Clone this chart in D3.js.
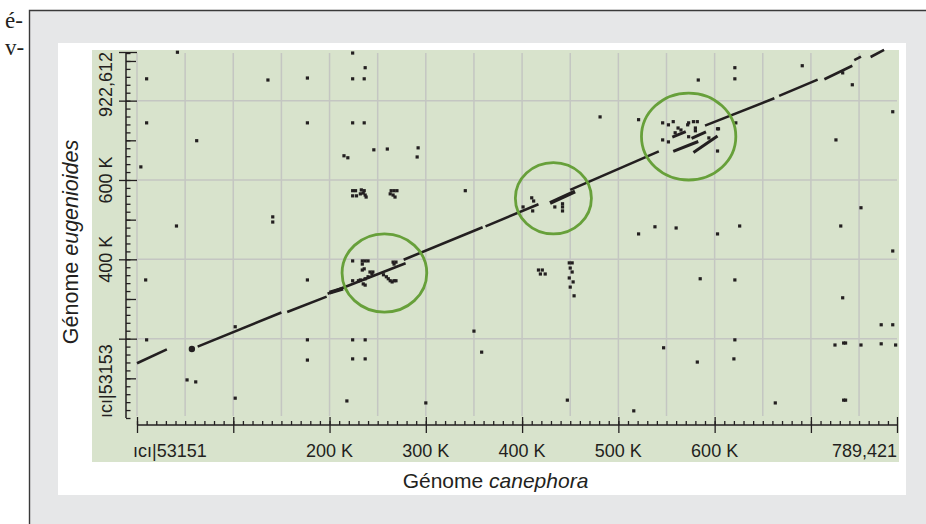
<!DOCTYPE html>
<meta charset="utf-8">
<html>
<head>
    <script src="https://d3js.org/d3.v7.min.js"></script>
    <style>
        body { margin: 0; background: #fff; }
        svg { display: block; font-family: "Liberation Sans", Arial, sans-serif; }
        .grid line { stroke: #c4c6c2; stroke-width: 1.5; }
        .axis path { display: none; }
        .axis line { stroke: #231f20; stroke-width: 1.3; }
        .axis text { font-size: 18px; fill: #231f20; }
    </style>
</head>
<body>
<svg width="926" height="524"></svg>
<script>
    // positions in kb
    const xMax = 789.421;   // Génome canephora
    const yMax = 922.612;   // Génome eugenioides

    const xLabelValues = [0, 200, 300, 400, 500, 600, xMax];
    const xLabelTexts = ["ıcı|53151", "200 K", "300 K", "400 K", "500 K", "600 K", "789,421"];
    const yLabelValues = [0, 400, 600, yMax];
    const yLabelTexts = ["ıcı|53153", "400 K", "600 K", "922,612"];

    // collinear runs [x0, y0, x1, y1]
    const runs = [
        [0, 138, 31, 173], [63, 180, 150, 266], [156, 267, 197, 306], [198, 313, 279, 390],
        [277, 399, 359, 481], [362, 483, 417, 539], [450, 575, 542, 672], [590, 737, 662, 806],
        [667, 812, 707, 853], [714, 854, 743, 888], [745, 902, 752, 911], [762, 910, 776, 928]
    ];
    // dense runs
    const denseRuns = [[429, 542, 455, 571], [200, 316, 214, 326]];
    // short streaks in third region
    const streaks = [[556, 708, 570, 722], [557, 672, 583, 697], [576, 705, 591, 721], [578, 669, 603, 711]];

    // single hits [x, y]
    const hits = [
        [42, 922], [10, 855], [10, 744], [62, 699], [4, 633], [41, 484], [9, 348], [10, 197], [52, 96], [61, 91],
        [102, 50], [102, 230], [136, 852], [141, 507], [141, 494], [177, 857], [177, 744], [224, 920], [237, 883],
        [224, 855], [236, 855], [224, 744], [236, 744], [215, 661], [219, 656], [246, 676], [260, 678], [292, 681],
        [291, 658],
        [224, 573], [227, 573], [224, 560], [228, 560], [233, 575], [235, 567], [237, 562], [238, 557], [232, 565],
        [236, 573], [264, 573], [267, 573], [270, 573], [263, 565], [266, 562], [268, 557],
        [341, 573], [177, 348], [177, 197], [177, 146], [224, 197], [237, 197], [224, 149], [237, 149],
        [218, 43], [300, 38], [350, 219], [358, 166], [481, 759], [521, 752], [521, 464], [538, 482], [560, 479],
        [547, 177], [582, 141], [585, 351], [621, 348], [621, 197], [620, 149], [603, 464], [626, 484],
        [621, 883], [621, 855], [691, 888], [733, 870], [743, 840], [785, 772], [726, 701], [752, 530], [731, 484],
        [785, 421], [733, 303], [773, 235], [785, 235], [725, 184], [734, 189], [736, 189], [752, 184], [773, 187],
        [788, 184], [663, 38], [734, 45], [736, 45], [516, 18], [447, 45],
        [417, 373], [421, 373], [419, 363], [424, 363], [449, 391], [452, 391], [450, 378], [452, 368], [449, 353],
        [453, 343], [450, 330], [454, 308],
        [410, 555], [412, 547], [401, 532], [411, 522], [434, 532], [442, 540], [442, 532], [442, 522],
        [224, 396], [234, 396], [237, 396], [240, 396], [234, 388], [266, 393], [269, 393], [267, 388], [234, 373],
        [236, 376], [242, 368], [245, 368], [244, 363], [224, 346], [230, 346], [232, 348], [237, 351], [240, 356],
        [235, 338], [237, 335], [256, 361], [259, 356], [261, 351], [263, 346], [265, 343], [267, 346], [269, 346],
        [546, 744], [552, 739], [557, 747], [562, 731], [565, 726], [572, 739], [573, 744], [578, 747], [582, 747],
        [580, 731], [580, 724], [559, 719], [546, 701], [552, 696], [573, 709], [594, 706], [603, 729], [604, 729],
        [603, 673], [622, 744], [583, 852]
    ];
    const blobs = [[57, 174]];

    // circled regions [x0, x1, y0, y1]
    const highlights = [[213, 301, 267, 464], [393, 472, 464, 644], [524, 622, 600, 819]];

    const svg = d3.select("svg");
    const ink = "#231f20";

    // page furniture
    svg.append("rect").attr("x", 29).attr("y", 10).attr("width", 897).attr("height", 514).attr("fill", "#e6e7e8");
    svg.append("path").attr("d", "M29.5,524V10.5H926").attr("fill", "none").attr("stroke", "#3a3a3a").attr("stroke-width", 1.4);
    svg.append("rect").attr("x", 58).attr("y", 43).attr("width", 848).attr("height", 452).attr("fill", "#fff");
    svg.append("rect").attr("x", 92).attr("y", 50).attr("width", 807).attr("height", 412).attr("fill", "#d8e3cc");
    svg.append("text").attr("x", 5).attr("y", 28).attr("font-family", "Liberation Serif, serif").attr("font-size", 23).attr("fill", ink).text("é-");
    svg.append("text").attr("x", 5).attr("y", 55).attr("font-family", "Liberation Serif, serif").attr("font-size", 23).attr("fill", ink).text("v-");

    const x = d3.scaleLinear().domain([0, xMax]).range([137, 897]);
    const y = d3.scaleLinear().domain([0, yMax]).range([418, 52]);

    // grid
    svg.append("g").attr("class", "grid").selectAll("line")
        .data(d3.range(0, 751, 50)).join("line")
        .attr("x1", d => x(d)).attr("x2", d => x(d)).attr("y1", 53).attr("y2", 416);
    svg.append("g").attr("class", "grid").selectAll("line")
        .data([200, 400, 600, 800]).join("line")
        .attr("y1", d => y(d)).attr("y2", d => y(d)).attr("x1", 137).attr("x2", 897);

    // x axis
    const xAxisY = 425;
    svg.append("g").attr("class", "axis").attr("transform", `translate(0,${xAxisY})`)
        .call(d3.axisTop(x).tickValues(d3.range(0, 790, 10)).tickSize(4).tickFormat(""));
    svg.append("g").attr("class", "axis").attr("transform", `translate(0,${xAxisY})`)
        .call(d3.axisTop(x).tickValues([0, 100, 200, 300, 400, 500, 600, 700, xMax]).tickSize(8).tickFormat(""));
    svg.append("g").attr("class", "axis").attr("transform", `translate(0,${xAxisY})`)
        .call(d3.axisBottom(x).tickValues([0, 100, 200, 300, 400, 500, 600, 700, xMax]).tickSize(8).tickFormat(""));
    svg.append("line").attr("x1", x(0)).attr("x2", x(xMax)).attr("y1", xAxisY).attr("y2", xAxisY)
        .attr("stroke", ink).attr("stroke-width", 1.5);
    svg.append("g").attr("class", "axis").selectAll("text")
        .data(xLabelValues).join("text")
        .attr("x", (d, i) => i === 0 ? x(d) - 4 : x(d))
        .attr("y", 456.5)
        .attr("text-anchor", (d, i) => i === 0 ? "start" : i === xLabelValues.length - 1 ? "end" : "middle")
        .text((d, i) => xLabelTexts[i]);

    // y axis
    const yAxisX = 126;
    svg.append("g").attr("class", "axis").attr("transform", `translate(${yAxisX},0)`)
        .call(d3.axisRight(y).tickValues(d3.range(0, 922, 20)).tickSize(4.5).tickFormat(""));
    svg.append("g").attr("class", "axis").attr("transform", `translate(${yAxisX},0)`)
        .call(d3.axisRight(y).tickValues([100, 300, 500, 700, 900]).tickSize(10).tickFormat(""));
    svg.append("g").attr("class", "axis").attr("transform", `translate(${yAxisX},0)`)
        .call(d3.axisRight(y).tickValues([200, 400, 600, 800, yMax]).tickSize(11).tickFormat(""));
    svg.append("g").attr("class", "axis").attr("transform", `translate(${yAxisX},0)`)
        .call(d3.axisLeft(y).tickValues([200, 400, 600, 800, yMax]).tickSize(7).tickFormat(""));
    svg.append("line").attr("x1", yAxisX).attr("x2", yAxisX).attr("y1", y(0)).attr("y2", y(yMax))
        .attr("stroke", ink).attr("stroke-width", 1.5);
    svg.append("g").attr("class", "axis").selectAll("text")
        .data(yLabelValues).join("text")
        .attr("transform", d => `translate(111.5,${y(d)}) rotate(-90)`)
        .attr("text-anchor", (d, i) => i === 0 ? "start" : i === yLabelValues.length - 1 ? "end" : "middle")
        .text((d, i) => yLabelTexts[i]);

    // axis titles
    const xTitle = svg.append("text").attr("x", 495.5).attr("y", 488).attr("text-anchor", "middle")
        .attr("font-size", 21).attr("fill", ink);
    xTitle.append("tspan").text("Génome ");
    xTitle.append("tspan").attr("font-style", "italic").text("canephora");
    const yTitle = svg.append("text").attr("transform", "translate(78,242) rotate(-90)").attr("text-anchor", "middle")
        .attr("font-size", 21.5).attr("fill", ink);
    yTitle.append("tspan").text("Génome ");
    yTitle.append("tspan").attr("font-style", "italic").text("eugenioides");

    // marks
    const marks = svg.append("g");
    marks.selectAll(".run").data(runs).join("line").attr("class", "run")
        .attr("x1", d => x(d[0])).attr("y1", d => y(d[1])).attr("x2", d => x(d[2])).attr("y2", d => y(d[3]))
        .attr("stroke", ink).attr("stroke-width", 2.6);
    marks.selectAll(".dense").data(denseRuns).join("line").attr("class", "dense")
        .attr("x1", d => x(d[0])).attr("y1", d => y(d[1])).attr("x2", d => x(d[2])).attr("y2", d => y(d[3]))
        .attr("stroke", ink).attr("stroke-width", 3.8);
    marks.selectAll(".streak").data(streaks).join("line").attr("class", "streak")
        .attr("x1", d => x(d[0])).attr("y1", d => y(d[1])).attr("x2", d => x(d[2])).attr("y2", d => y(d[3]))
        .attr("stroke", ink).attr("stroke-width", 3);
    marks.selectAll(".hit").data(hits).join("rect").attr("class", "hit")
        .attr("x", d => x(d[0]) - 1.6).attr("y", d => y(d[1]) - 1.6)
        .attr("width", 3.2).attr("height", 3.2).attr("fill", ink);
    marks.selectAll(".blob").data(blobs).join("circle").attr("class", "blob")
        .attr("cx", d => x(d[0])).attr("cy", d => y(d[1])).attr("r", 3.2).attr("fill", ink);

    // circled regions
    svg.append("g").selectAll("ellipse").data(highlights).join("ellipse")
        .attr("cx", d => (x(d[0]) + x(d[1])) / 2).attr("cy", d => (y(d[2]) + y(d[3])) / 2)
        .attr("rx", d => (x(d[1]) - x(d[0])) / 2).attr("ry", d => (y(d[2]) - y(d[3])) / 2)
        .attr("fill", "none").attr("stroke", "#67a03a").attr("stroke-width", 2.8);
</script>
</body>
</html>
